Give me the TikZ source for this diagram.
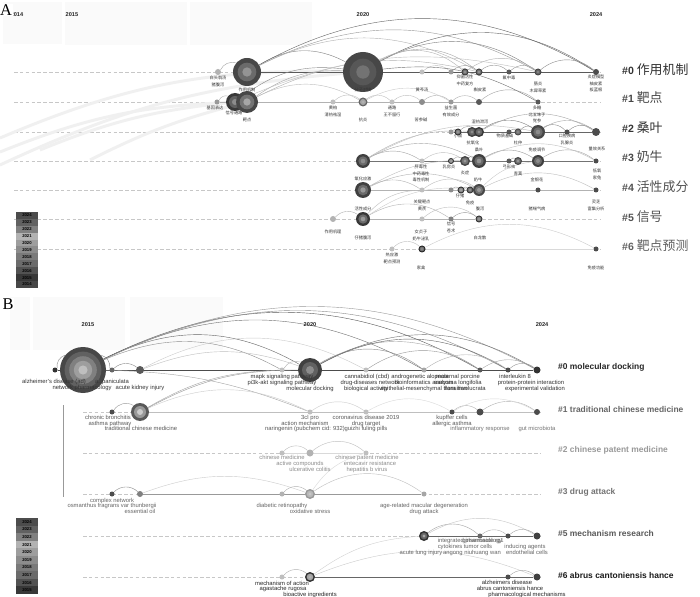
\documentclass[tikz,border=0pt]{standalone}
\usepackage{fontspec}
\setmainfont{Liberation Sans}
\newfontfamily\cjk{Noto Sans CJK SC}
\newfontfamily\tms{Liberation Serif}
\usetikzlibrary{backgrounds}
\newcommand\ring[6]{\node[dot=#3,fill=#4] (#1) at (#2) {};
\fill[#5] (#1) circle[radius=#3*0.02cm];
\fill[#6] (#1) circle[radius=#3*0.01cm];}

\begin{document}
\begin{tikzpicture}[x=0.03cm,y=-0.03cm,
dot/.style={circle,inner sep=0pt,minimum size=#1*0.06cm},
lk/.style={draw=#1,line width=.35pt},
rowline/.style={draw=black!22,densely dashed,line width=.35pt},
zh/.style={font=\cjk\fontsize{3.6}{5.6}\selectfont,text=black!80,align=center,inner sep=0pt,anchor=north},
en/.style={font=\fontsize{5}{6}\selectfont,text=#1,inner sep=0pt,anchor=north},
clu/.style={font=\cjk\fontsize{11}{13}\selectfont,text=#1,anchor=west,inner sep=0pt},
clb/.style={font=\bfseries\fontsize{7.2}{9}\selectfont,text=#1,anchor=west,inner sep=0pt},
yr/.style={font=\bfseries\fontsize{4.8}{5}\selectfont,text=black!85,inner sep=0pt},
lg/.style={font=\bfseries\fontsize{3.6}{4}\selectfont,text=black,inner sep=0pt},
pnl/.style={font=\tms\fontsize{14}{14}\selectfont,inner sep=.5pt,fill=white}]
\useasboundingbox (0,0) rectangle (700,597);
\begin{scope}[on background layer]
\fill[white] (0,0) rectangle (700,597);
\fill[black!2] (3,2) rectangle (62,44);
\fill[black!2] (65,2) rectangle (187,45);
\fill[black!2] (190,2) rectangle (312,45);
\fill[black!2] (10,297) rectangle (30,350);
\fill[black!2] (33,297) rectangle (125,350);
\fill[black!2] (130,297) rectangle (223,350);
\foreach \y in {72,102,132,161,190,219,249} \draw[rowline] (14,\y) -- (600,\y);
\foreach \y in {412,453,494,536,577} \draw[rowline] (83,\y) -- (540,\y);
\end{scope}

\foreach \x/\s in {17/2014,72/2015,363/2020,596/2024} \node[yr] (ya\s) at (\x,15) {\s};
\foreach \x/\s in {88/2015,310/2020,542/2024} \node[yr] (yb\s) at (\x,325) {\s};
\node[pnl] (pa) at (6,10) {A};
\node[pnl] (pb) at (8,304) {B};

\foreach \n/\x/\y/\r/\c in {a00/218/72/3/black!30,a03/422/72/2.5/black!25,a04/451/72/2.5/black!40,a07/509/72/2.5/black!65,a09/596/72/3/black!70,
a10/217/102/2.5/black!40,a13/333/102/2.5/black!25,a15/392/102/2.5/black!25,a16/422/102/3/black!45,a17/451/102/2.5/black!40,a18/479/102/3/black!65,a19/538/102/2.5/black!65,
a20/451/132/2.5/black!40,a24/509/132/2.5/black!65,a27/567/132/2.5/black!70,a28/596/132/4/black!70,
a31/422/161/2.5/black!25,a35/509/161/2.5/black!65,a38/596/161/2.5/black!70,
a41/422/190/2.5/black!25,a42/451/190/2.5/black!45,a46/538/190/2.5/black!70,a47/596/190/2.5/black!70,
a50/333/219/3/black!30,a52/422/219/2.5/black!25,a53/451/219/2.5/black!50,
a60/392/249/2.5/black!25,a62/596/249/2.5/black!70}
\node[dot=\r,fill=\c] (\n) at (\x,\y) {};
\ring{a01}{247,72}{14}{black!72}{black!58}{black!42}
\ring{a02}{363,72}{20}{black!72}{black!66}{black!55}
\ring{a05}{465,72}{3.5}{black!75}{black!55}{black!40}
\ring{a06}{479,72}{3.5}{black!75}{black!55}{black!40}
\ring{a08}{538,72}{3.5}{black!72}{black!60}{black!45}
\ring{a12}{235,102}{9}{black!78}{black!62}{black!45}
\ring{a11}{247,102}{11}{black!72}{black!55}{black!35}
\ring{a14}{363,102}{4.5}{black!60}{black!35}{black!30}
\ring{a21}{458,132}{3.5}{black!80}{black!50}{black!40}
\ring{a22}{472,132}{5}{black!75}{black!60}{black!45}
\ring{a23}{479,132}{5}{black!78}{black!60}{black!45}
\ring{a25}{518,132}{3.5}{black!70}{black!55}{black!45}
\ring{a26}{538,132}{7}{black!72}{black!58}{black!45}
\ring{a30}{363,161}{7}{black!75}{black!58}{black!45}
\ring{a32}{451,161}{3}{black!80}{black!45}{black!35}
\ring{a33}{465,161}{5}{black!72}{black!55}{black!40}
\ring{a34}{479,161}{7}{black!75}{black!58}{black!42}
\ring{a36}{518,161}{4}{black!72}{black!55}{black!40}
\ring{a37}{538,161}{6}{black!75}{black!58}{black!45}
\ring{a40}{363,190}{8}{black!75}{black!58}{black!40}
\ring{a43}{461,190}{3.5}{black!80}{black!45}{black!35}
\ring{a44}{470,190}{3.5}{black!78}{black!55}{black!40}
\ring{a45}{479,190}{6}{black!72}{black!55}{black!40}
\ring{a51}{363,219}{7}{black!78}{black!58}{black!40}
\ring{a54}{479,219}{3.5}{black!80}{black!50}{black!40}
\ring{a61}{422,249}{3.5}{black!85}{black!55}{black!45}

\foreach \n/\x/\y/\r/\c in {b00/55/370/2.5/black!80,b02/112/370/2.5/black!60,b03/140/370/4/black!65,b04/282/370/2.5/black!25,b06/366/370/2.5/black!25,b07/424/370/2.5/black!35,b08/480/370/2.5/black!65,b09/508/370/2.5/black!70,b0a/537/370/3.5/black!80,
b10/112/412/2.5/black!70,b12/310/412/2.5/black!25,b13/366/412/2.5/black!25,b14/452/412/2.5/black!70,b15/480/412/3.5/black!70,b16/537/412/3/black!70,
b20/282/453/2.5/black!25,b21/310/453/3.5/black!30,b22/366/453/2.5/black!25,
b30/112/494/2.5/black!70,b31/140/494/3/black!50,b32/282/494/2.5/black!30,b34/424/494/2.5/black!35,
b51/480/536/2.5/black!60,b52/508/536/2.5/black!70,b53/537/536/3.5/black!75,
b60/282/577/2.5/black!25,b62/508/577/2.5/black!70,b63/537/577/3.5/black!75}
\node[dot=\r,fill=\c] (\n) at (\x,\y) {};
\node[dot=23,fill=black!72] (b01) at (83,370) {};
\foreach \f/\c in {0.8/62,0.6/50,0.4/38,0.2/25} \fill[black!\c] (b01) circle[radius=23*0.03cm*\f];
\ring{b05}{310,370}{12}{black!75}{black!62}{black!45}
\ring{b11}{140,412}{9}{black!65}{black!40}{black!20}
\ring{b33}{310,494}{5}{black!40}{black!28}{black!22}
\ring{b50}{424,536}{5}{black!80}{black!60}{black!35}
\ring{b61}{310,577}{5}{black!80}{black!35}{black!30}

\coordinate (g1) at (0,152);
\coordinate (g2) at (0,138);
\coordinate (g3) at (40,150);
\coordinate (g4) at (0,165);
\coordinate (g5) at (90,160);
\coordinate (v1) at (63,405);
\coordinate (v2) at (63,497);

\begin{scope}[on background layer]
\foreach \g/\t/\k in {g1/a11/10,g2/a02/12,g3/a12/8,g4/a02/10,g5/a11/6} \draw[black!6,line width=2.5pt] (\g) to[bend left=\k] (\t);
\draw[black!40,line width=.4pt] (v1) -- (v2);
\foreach \a/\b/\c/\w in {a01/a09/black!65/.7pt,a10/a19/black!30/.5pt,a20/a28/black!60/.6pt,a30/a38/black!55/.6pt,a40/a47/black!30/.5pt,a51/a54/black!30/.5pt,a61/a62/black!15/.4pt,
b00/b0a/black!70/.7pt,b11/b16/black!25/.5pt,b20/b22/black!15/.4pt,b31/b34/black!40/.5pt,b50/b53/black!60/.6pt,b61/b63/black!60/.6pt}
\draw[draw=\c,line width=\w] (\a) -- (\b);
\foreach \a/\b/\k/\c in {a00/a01/40/black!35,a01/a02/30/black!50,a01/a09/30/black!60,a01/a08/28/black!40,a01/a06/28/black!30,a02/a09/32/black!60,a02/a08/32/black!50,a02/a06/34/black!35,a02/a05/36/black!30,a03/a04/40/black!25,a04/a06/40/black!40,a06/a07/40/black!40,a07/a08/40/black!40,a08/a09/40/black!45,a05/a08/36/black!30,
a12/a02/22/black!45,a11/a02/18/black!35,a11/a06/20/black!30,a12/a08/18/black!25,a10/a12/40/black!30,a11/a14/28/black!25,a13/a14/40/black!25,a14/a15/40/black!25,a15/a16/40/black!25,a16/a17/40/black!30,a17/a18/40/black!30,a18/a19/40/black!35,a02/a19/18/black!55,a14/a17/30/black!20,
a20/a21/45/black!35,a21/a23/40/black!40,a23/a26/35/black!50,a23/a28/30/black!35,a24/a25/40/black!40,a25/a26/40/black!45,a26/a27/40/black!45,a27/a28/40/black!45,a26/a28/35/black!35,
a30/a31/30/black!35,a30/a34/28/black!35,a30/a23/18/black!30,a30/a26/20/black!25,a31/a33/35/black!25,a32/a33/40/black!35,a33/a34/40/black!40,a34/a37/32/black!40,a35/a36/40/black!40,a37/a38/35/black!35,a34/a38/28/black!25,
a40/a41/30/black!30,a40/a45/26/black!30,a40/a34/16/black!25,a41/a45/35/black!25,a42/a43/40/black!40,a43/a44/40/black!40,a44/a45/40/black!40,a45/a47/28/black!25,a45/a37/18/black!20,
a50/a51/40/black!30,a51/a53/32/black!30,a51/a41/22/black!25,a52/a54/40/black!25,a53/a54/40/black!40,a51/a45/20/black!20,a60/a61/45/black!25,a61/a62/28/black!20,
b00/b01/40/black!45,b01/b02/40/black!45,b02/b03/40/black!45,b01/b04/26/black!45,b01/b05/28/black!60,b01/b07/28/black!55,b01/b08/28/black!65,b01/b09/27/black!45,b01/b0a/27/black!40,b03/b06/28/black!20,b04/b05/40/black!30,b05/b07/34/black!45,b05/b08/32/black!35,b05/b09/30/black!60,b05/b0a/30/black!55,b06/b08/34/black!40,b07/b09/36/black!30,b08/b0a/34/black!35,b09/b0a/40/black!40,
b11/b04/14/black!35,b11/b05/14/black!40,b03/b05/20/black!25,b01/b12/10/black!35,b10/b11/45/black!40,b11/b12/25/black!20,b12/b13/35/black!20,b13/b14/30/black!15,b14/b15/40/black!30,b15/b16/35/black!30,b14/b16/30/black!15,
b20/b21/45/black!25,b21/b22/40/black!25,b30/b31/45/black!45,b31/b33/20/black!20,b32/b33/45/black!30,b33/b34/35/black!25,b33/b22/20/black!15,
b50/b51/40/black!35,b50/b53/30/black!22,b51/b52/40/black!30,b52/b53/40/black!35,b60/b61/45/black!30,b61/b63/22/black!20,b62/b63/40/black!35,b61/b50/16/black!18}
\draw[lk=\c] (\a) to[bend left=\k] (\b);
\end{scope}

\foreach \x/\y/\s [count=\i] in {218/76/{白头翁汤\\猪腹泻},247/88/作用机制,363/88/分子对接,422/88/黄芩汤,465/75/{抑菌活性\\中药复方},480/88/槲皮素,509/76/氟中毒,538/82/{肠炎\\木犀草素},596/75/{炎症模型\\柚皮素\\板蓝根},
215/106/基因表达,234/111/信号通路,247/118/靶点,333/106/{黄柏\\清热祛湿},363/118/抗炎,392/106/{通路\\王不留行},421/118/苦参碱,451/106/{益生菌\\有效成分},480/120/湿热泄泻,537/106/{多糖\\北五味子\\党参},
458/134/小鼠,473/141/抗氧化,479/148/桑叶,505/134/物质基础,518/141/杜仲,537/148/免疫调节,567/134/{口腔疾病\\乳腺炎},597/147/量效关系,
421/165/{肝毒性\\中药毒性\\毒性机制},449/165/乳房炎,465/171/炎症,478/178/奶牛,509/165/弓形虫,518/172/青蒿,537/178/金银花,597/169/{低氧\\家兔},363/177/氧化应激,
460/194/仔猪,422/200/{关键靶点\\黄芪},470/201/免疫,480/207/腹泻,537/207/猪喘气病,596/200/{灵芝\\富集分析},363/207/活性成分,
333/230/作用机理,363/236/仔猪腹泻,421/230/{女贞子\\奶牛泌乳},451/222/{信号\\苍术},480/236/白龙散,
392/253/{热应激\\靶点预测},421/266/家禽,596/266/免疫功能}
\node[zh] (z\i) at (\x,\y) {\s};

\foreach \x/\y/\s/\c [count=\i] in {54/379/{alzheimer's disease (ad)}/black!80,112/379/{a. paniculata}/black!80,82/385/{network pharmacology}/black!80,140/385/{acute kidney injury}/black!80,282/374/{mapk signaling pathway}/black!80,282/380/{pi3k-akt signaling pathway}/black!80,310/386/{molecular docking}/black!80,367/374/{cannabidiol (cbd)}/black!80,370/380/{drug-diseases network}/black!80,366/386/{biological activity}/black!80,420/374/{androgenetic alopecia}/black!80,424/380/{bioinformatics analysis}/black!80,424/386/{epithelial-mesenchymal transition}/black!80,458/374/{maternal porcine}/black!80,458/380/{sarcoma longifolia}/black!80,465/386/{flora involucrata}/black!80,515/374/{interleukin 8}/black!80,531/380/{protein-protein interaction}/black!80,535/386/{experimental validation}/black!80,
108/415/{chronic bronchitis}/black!65,110/421/{asthma pathway}/black!65,141/426/{traditional chinese medicine}/black!65,310/415/{3cl pro}/black!65,305/421/{action mechanism}/black!65,305/426/{naringenin (pubchem cid: 932)}/black!65,366/415/{coronavirus disease 2019}/black!65,366/421/{drug target}/black!65,366/426/{guizhi fuling pills}/black!65,452/415/{kupffer cells}/black!65,452/421/{allergic asthma}/black!65,480/426/{inflammatory response}/black!55,537/426/{gut microbiota}/black!55,
282/455/{chinese medicine}/black!45,300/461/{active compounds}/black!45,310/467/{ulcerative colitis}/black!45,367/455/{chinese patent medicine}/black!45,370/461/{entecavir resistance}/black!45,367/467/{hepatitis b virus}/black!45,
112/498/{complex network}/black!60,112/503/{osmanthus fragrans var thunbergii}/black!60,140/509/{essential oil}/black!60,282/503/{diabetic retinopathy}/black!60,310/509/{oxidative stress}/black!60,424/503/{age-related macular degeneration}/black!60,424/509/{drug attack}/black!60,
470/538/{integrated pharmacology}/black!60,483/538/{ginsenoside rg1}/black!60,450/544/{cytokines}/black!60,478/544/{tumor cells}/black!60,525/544/{inducing agents}/black!60,421/550/{acute lung injury}/black!60,472/550/{angong niuhuang wan}/black!60,527/550/{endothelial cells}/black!60,
282/581/{mechanism of action}/black!85,283/586/{agastache rugosa}/black!85,310/592/{bioactive ingredients}/black!85,507/580/{alzheimers disease}/black!85,510/586/{abrus cantoniensis hance}/black!85,527/592/{pharmacological mechanisms}/black!85}
\node[en=\c] (e\i) at (\x,\y) {\s};

\foreach \n/\y/\s/\c in {0/70/作用机制/black!80,1/98/靶点/black!72,2/128/桑叶/black!80,3/157/奶牛/black!72,4/187/活性成分/black!68,5/217/信号/black!68,6/246/靶点预测/black!62}
\node[clu=\c] (ca\n) at (622,\y) {{\rmfamily\bfseries\fontsize{9}{11}\selectfont\#\n} \s};
\foreach \n/\y/\s/\c in {0/367/molecular docking/black!85,1/409/traditional chinese medicine/black!60,2/450/chinese patent medicine/black!40,3/492/drug attack/black!55,5/533/mechanism research/black!65,6/575/abrus cantoniensis hance/black!90}
\node[clb=\c] (cb\n) at (558,\y) {\#\n\ \s};

\foreach \yy/\c [count=\i] in {2024/70,2023/62,2022/50,2021/30,2020/38,2019/45,2018/52,2017/58,2016/68,2015/78,2014/72}{
\fill[black!\c] (16,{212+6.9*(\i-1)}) rectangle +(22,6.9);
\node[lg] (la\yy) at (27,{215.5+6.9*(\i-1)}) {\yy};}
\foreach \yy/\c [count=\i] in {2024/70,2023/62,2022/50,2021/30,2020/38,2019/45,2018/52,2017/58,2016/68,2015/78}{
\fill[black!\c] (16,{518+7.6*(\i-1)}) rectangle +(22,7.6);
\node[lg] (lb\yy) at (27,{521.8+7.6*(\i-1)}) {\yy};}
\end{tikzpicture}
\end{document}
